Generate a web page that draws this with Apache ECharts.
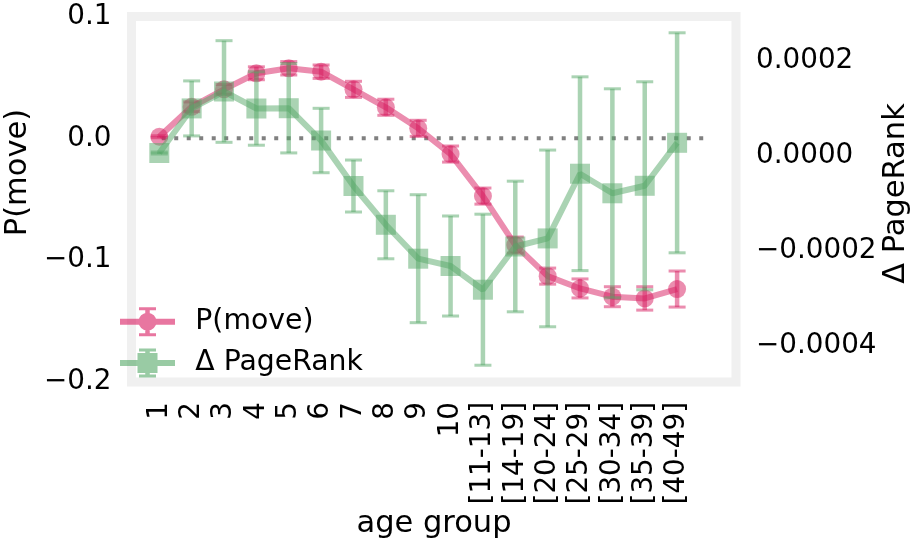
<!DOCTYPE html>
<html><head><meta charset="utf-8">
<script src="https://cdn.jsdelivr.net/npm/echarts@6/dist/echarts.min.js"></script>
<style>html,body{margin:0;padding:0;background:#fff}#c{width:914px;height:544px}</style>
</head><body><div id="c"></div>
<script>
// ---- data ----
const categories = ['1','2','3','4','5','6','7','8','9','10','[11-13]','[14-19]','[20-24]','[25-29]','[30-34]','[35-39]','[40-49]'];
const pMove    = [0.0013, 0.0259, 0.0402, 0.0534, 0.0575, 0.0547, 0.0402, 0.0255, 0.0082, -0.0129, -0.0474, -0.0876, -0.1131, -0.1232, -0.1300, -0.1314, -0.1237];
const pMoveErr = [0.0008, 0.0040, 0.0040, 0.0053, 0.0055, 0.0055, 0.0066, 0.0066, 0.0066, 0.0066, 0.0066, 0.0066, 0.0066, 0.0078, 0.0082, 0.0096, 0.0148];
const deltaPR    = [0.0000063, 0.0001002, 0.0001358, 0.0001000, 0.0001006, 0.0000326, -0.0000632, -0.0001448, -0.0002162, -0.0002316, -0.0002815, -0.0001905, -0.0001735, -0.0000373, -0.0000785, -0.0000627, 0.0000278];
const deltaPRErr = [0.000002, 0.0000579, 0.000107, 0.0000773, 0.0000941, 0.0000678, 0.0000547, 0.0000716, 0.0001347, 0.0001053, 0.000159, 0.0001375, 0.000186, 0.000204, 0.00022, 0.000219, 0.0002316];
const leftTicks  = [-0.2, -0.1, 0, 0.1];
const rightTicks = [-0.0004, -0.0002, 0, 0.0002];

const PINK = '#d81b60', GREEN = '#55a868';
const FONT = '"DejaVu Sans"', FS = 27.8, TFS = 30.5;
const xMin = -0.859, xMax = 17.82;
const zeroX0 = xMin + 0.05 * (xMax - xMin), zeroX1 = xMin + 0.95 * (xMax - xMin);

const minus = s => s.replace('-', '\u2212');
const idx = categories.map((_, i) => i);

function errItem(color) {
  return function (params, api) {
    const x = api.value(0), y = api.value(1), e = api.value(2);
    const t = api.coord([x, y + e]), b = api.coord([x, y - e]);
    const h = 8.5;
    const st = { stroke: color, opacity: 0.5, lineWidth: 4.5 };
    const cs = { stroke: color, opacity: 0.5, lineWidth: 3 };
    return { type: 'group', children: [
      { type: 'line', shape: { x1: t[0], y1: t[1], x2: b[0], y2: b[1] }, style: st },
      { type: 'line', shape: { x1: t[0] - h, y1: t[1], x2: t[0] + h, y2: t[1] }, style: cs },
      { type: 'line', shape: { x1: b[0] - h, y1: b[1], x2: b[0] + h, y2: b[1] }, style: cs }
    ]};
  };
}

const pinkIcon = 'path://M0 11.5H55V17.5H0Z M18.5 14.5A9 9 0 1 1 36.5 14.5A9 9 0 1 1 18.5 14.5Z M25.25 0H29.75V29H25.25Z M19 0H36V3H19Z M19 26H36V29H19Z';
const greenIcon = 'path://M0 11.5H55V17.5H0Z M17.5 4.5H37.5V24.5H17.5Z M25.25 0H29.75V29H25.25Z M19 0H36V3H19Z M19 26H36V29H19Z';

const chart = echarts.init(document.getElementById('c'), null, { renderer: 'canvas' });
chart.setOption({
  animation: false,
  textStyle: { fontFamily: FONT },
  grid: { left: 131.5, top: 16.5, width: 604.5, height: 365.5, show: true,
          borderColor: '#f0f0f0', borderWidth: 9, backgroundColor: '#fff', containLabel: false },
  xAxis: {
    type: 'value', min: xMin, max: xMax,
    axisLine: { show: false }, axisTick: { show: false }, splitLine: { show: false },
    axisLabel: { customValues: idx, rotate: 90, margin: 20, fontSize: FS, fontFamily: FONT, color: '#000',
                 padding: [4.6, 0, 0, 0],
                 formatter: v => categories[Math.round(v)] }
  },
  yAxis: [
    { type: 'value', position: 'left', min: -0.2, max: 0.1, interval: 0.1,
      axisLine: { show: false }, axisTick: { show: false }, splitLine: { show: false },
      axisLabel: { customValues: leftTicks, margin: 20, fontSize: FS, fontFamily: FONT, color: '#000',
                   formatter: v => Math.abs(v) < 1e-9 ? '0.0' : minus(v.toFixed(1)) } },
    { type: 'value', position: 'right', min: -0.0004758, max: 0.0002937,
      axisLine: { show: false }, axisTick: { show: false }, splitLine: { show: false },
      axisLabel: { customValues: rightTicks, margin: 20, fontSize: FS, fontFamily: FONT, color: '#000',
                   formatter: v => Math.abs(v) < 1e-12 ? '0.0000' : minus(v.toFixed(4)) } }
  ],
  legend: {
    orient: 'vertical', left: 120, top: 307.2, padding: 0, itemGap: 12.3,
    itemWidth: 55, itemHeight: 29, selectedMode: true,
    textStyle: { fontSize: 28.3, fontFamily: FONT, color: '#000', padding: [0, 0, 0, 15.3] },
    data: [
      { name: 'P(move)', icon: pinkIcon, itemStyle: { color: PINK, opacity: 0.6 } },
      { name: '\u0394 PageRank', icon: greenIcon, itemStyle: { color: GREEN, opacity: 0.6 } }
    ]
  },
  graphic: [
    { type: 'text', x: 18, y: 172.5, rotation: Math.PI / 2,
      style: { text: 'P(move)', font: TFS + 'px ' + FONT, fill: '#000', align: 'center', verticalAlign: 'middle' } },
    { type: 'text', x: 896.5, y: 193.5, rotation: Math.PI / 2,
      style: { text: '\u0394 PageRank', font: TFS + 'px ' + FONT, fill: '#000', align: 'center', verticalAlign: 'middle' } },
    { type: 'text', x: 434, y: 524.5,
      style: { text: 'age group', font: TFS + 'px ' + FONT, fill: '#000', align: 'center', verticalAlign: 'middle' } }
  ],
  series: [
    { name: 'zero', type: 'line', yAxisIndex: 0, data: [[zeroX0, 0], [zeroX1, 0]], symbol: 'none', silent: true, z: 1,
      lineStyle: { color: '#808080', width: 4, type: [4, 8.5], cap: 'butt' } },
    { name: 'P(move)', type: 'line', yAxisIndex: 0, z: 2,
      data: idx.map(i => [i, pMove[i]]), symbol: 'circle', symbolSize: 18,
      lineStyle: { color: PINK, width: 6, opacity: 0.5 },
      itemStyle: { color: PINK, opacity: 0.5 } },
    { name: 'P(move)', type: 'custom', yAxisIndex: 0, z: 3,
      renderItem: errItem(PINK), encode: { x: 0, y: 1 },
      data: idx.map(i => [i, pMove[i], pMoveErr[i]]) },
    { name: '\u0394 PageRank', type: 'line', yAxisIndex: 1, z: 4,
      data: idx.map(i => [i, deltaPR[i]]), symbol: 'rect', symbolSize: 20,
      lineStyle: { color: GREEN, width: 6, opacity: 0.5 },
      itemStyle: { color: GREEN, opacity: 0.5 } },
    { name: '\u0394 PageRank', type: 'custom', yAxisIndex: 1, z: 5,
      renderItem: errItem(GREEN), encode: { x: 0, y: 1 },
      data: idx.map(i => [i, deltaPR[i], deltaPRErr[i]]) }
  ]
});
</script>
</body></html>
